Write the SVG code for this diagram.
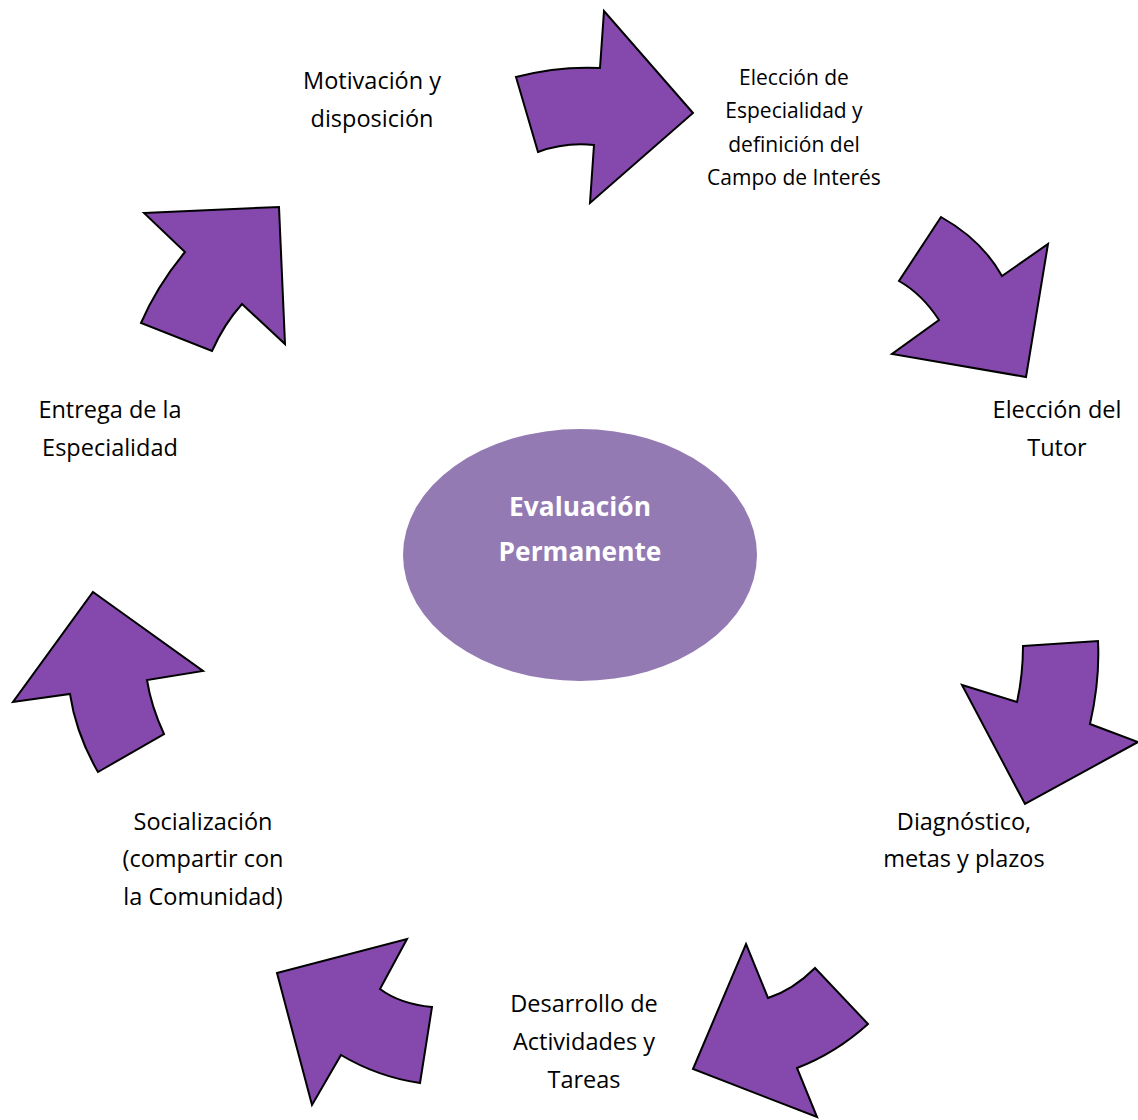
<svg xmlns="http://www.w3.org/2000/svg" width="1138" height="1120" viewBox="0 0 1138 1120">
<style>
.arrow{fill:#8549AD;stroke:#000;stroke-width:2;stroke-linejoin:miter}
.lbl{font-family:"Open Sans",Lato,sans-serif;font-size:23.5px;fill:#000;text-anchor:middle;font-variant-ligatures:none}
.sm{font-size:21px}
.ctr{font-family:"Open Sans",Lato,sans-serif;font-size:26.3px;font-weight:bold;fill:#fff;text-anchor:middle}
</style>
<rect width="1138" height="1120" fill="#fff"/>
<g id="center">
<ellipse cx="580" cy="555" rx="177" ry="126" fill="#937AB3"/>
<text class="ctr" x="580" y="516">Evaluación</text>
<text class="ctr" x="580" y="561">Permanente</text>
</g>
<g id="connectors">
<path class="arrow" d="M516,77 Q558,66 600,68 L604,11 L693,113 L590,203 L594,145 Q565,142 538,152 Z"/>
<path class="arrow" d="M941,217 Q982,240 1002,276 L1048,244 L1026,377 L892,354 L939,320 Q922,294 899,281 Z"/>
<path class="arrow" d="M1023,646 L1098,641 Q1100,680 1090,724 L1138,742 L1025,804 L962,685 L1017,702 Q1023,675 1023,646 Z"/>
<path class="arrow" d="M746,944 L768,998 Q793,990 815,968 L868,1024 Q836,1053 797,1068 L817,1117 L693,1069 Z"/>
<path class="arrow" d="M407,939 L380,989 Q400,1004 432,1007 L420,1083 Q378,1077 341,1055 L312,1105 L277,973 Z"/>
<path class="arrow" d="M93,592 L203,671 L147,680 Q151,706 164,734 L98,772 Q76,734 70,694 L13,702 Z"/>
<path class="arrow" d="M144,213 L279,207 L285,344 L242,304 Q224,324 212,351 L141,323 Q157,286 185,252 Z"/>
</g>
<g id="n-motivacion">
<text class="lbl" x="372" y="89">Motivación y</text>
<text class="lbl" x="372" y="127">disposición</text>
</g>
<g id="n-eleccion-especialidad">
<text class="lbl sm" x="794" y="85">Elección de</text>
<text class="lbl sm" x="794" y="118">Especialidad y</text>
<text class="lbl sm" x="794" y="152">definición del</text>
<text class="lbl sm" x="794" y="185">Campo de Interés</text>
</g>
<g id="n-tutor">
<text class="lbl" x="1057" y="418">Elección del</text>
<text class="lbl" x="1057" y="456">Tutor</text>
</g>
<g id="n-entrega">
<text class="lbl" x="110" y="418">Entrega de la</text>
<text class="lbl" x="110" y="456">Especialidad</text>
</g>
<g id="n-diagnostico">
<text class="lbl" x="964" y="830">Diagnóstico,</text>
<text class="lbl" x="964" y="867">metas y plazos</text>
</g>
<g id="n-socializacion">
<text class="lbl" x="203" y="830">Socialización</text>
<text class="lbl" x="203" y="867">(compartir con</text>
<text class="lbl" x="203" y="905">la Comunidad)</text>
</g>
<g id="n-desarrollo">
<text class="lbl" x="584" y="1012">Desarrollo de</text>
<text class="lbl" x="584" y="1050">Actividades y</text>
<text class="lbl" x="584" y="1088">Tareas</text>
</g>
</svg>
